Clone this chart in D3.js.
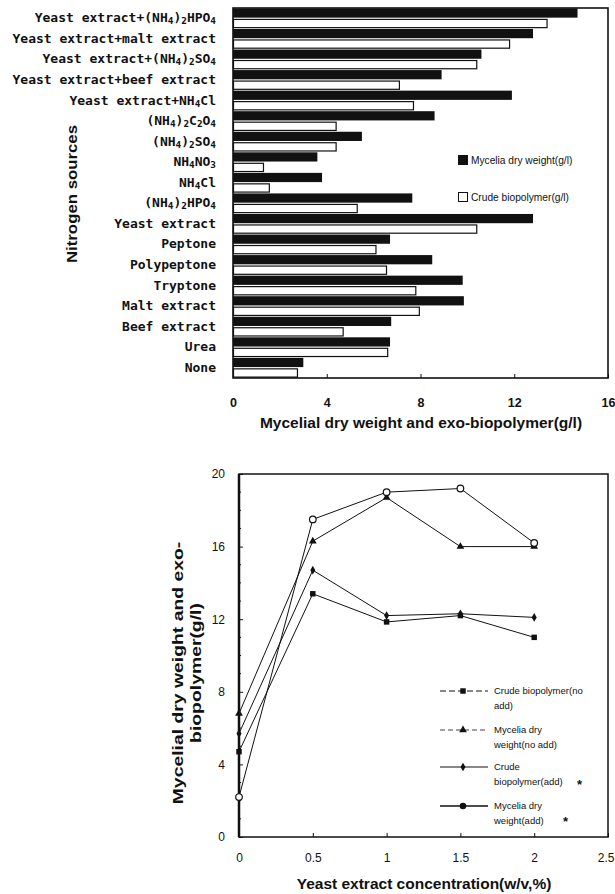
<!DOCTYPE html>
<html>
<head>
<meta charset="utf-8">
<script src="https://cdn.jsdelivr.net/npm/d3@7"></script>
<style>
  html, body { margin: 0; padding: 0; background: #fff; }
  svg { display: block; }
</style>
</head>
<body>
<svg id="chart" width="615" height="894"></svg>
<script>
// ---------- Data: top chart (nitrogen sources) ----------
// "_n" marks a subscript digit
const nitrogenSources = [
  "Yeast extract+(NH_4)_2HPO_4",
  "Yeast extract+malt extract",
  "Yeast extract+(NH_4)_2SO_4",
  "Yeast extract+beef extract",
  "Yeast extract+NH_4Cl",
  "(NH_4)_2C_2O_4",
  "(NH_4)_2SO_4",
  "NH_4NO_3",
  "NH_4Cl",
  "(NH_4)_2HPO_4",
  "Yeast extract",
  "Peptone",
  "Polypeptone",
  "Tryptone",
  "Malt extract",
  "Beef extract",
  "Urea",
  "None"
];
const myceliaDryWeight = [14.7, 12.8, 10.6, 8.9, 11.9, 8.6, 5.5, 3.6, 3.8, 7.65, 12.8, 6.7, 8.5, 9.8, 9.85, 6.75, 6.7, 3.0];
const crudeBiopolymer  = [13.4, 11.8, 10.4, 7.1, 7.7, 4.4, 4.4, 1.3, 1.55, 5.3, 10.4, 6.1, 6.55, 7.8, 7.95, 4.7, 6.6, 2.75];
const barTicks = [0, 4, 8, 12, 16];
const barSeriesNames = ["Mycelia dry weight(g/l)", "Crude biopolymer(g/l)"];

// ---------- Data: bottom chart (yeast extract concentration) ----------
const concentrations = [0, 0.5, 1, 1.5, 2];
const crudeNoAdd   = [4.7, 13.4, 11.85, 12.2, 11.0];
const myceliaNoAdd = [6.8, 16.3, 18.7, 16.0, 16.0];
const crudeAdd     = [5.7, 14.7, 12.2, 12.3, 12.1];
const myceliaAdd   = [2.2, 17.5, 19.0, 19.2, 16.2];
const lineXTicks = [0, 0.5, 1, 1.5, 2, 2.5];
const lineXTickLabels = ["0", "0.5", "1", "1.5", "2", "2.5"];
const lineYTicks = [0, 4, 8, 12, 16, 20];
const lineSeriesNames = [
  ["Crude biopolymer(no", "add)"],
  ["Mycelia dry", "weight(no add)"],
  ["Crude", "biopolymer(add)"],
  ["Mycelia dry", "weight(add)"]
];

const svg = d3.select("#chart");
const sans = "'Liberation Sans', Arial, sans-serif";
const mono = "'DejaVu Sans Mono', monospace";

// helper: write label with subscripts
function subText(sel, str) {
  const parts = str.split(/(_\d)/).filter(s => s.length);
  parts.forEach(p => {
    if (p[0] === "_") {
      sel.append("tspan").attr("baseline-shift", "-25%").attr("font-size", "0.72em").text(p.slice(1));
    } else {
      sel.append("tspan").text(p);
    }
  });
}

// ================= TOP: horizontal bar chart =================
const bL = 233, bR = 608, bT = 8, bB = 378;
const bx = d3.scaleLinear().domain([0, 16]).range([bL, bR]);
const by = d3.scaleBand().domain(nitrogenSources).range([bT, bB]).paddingInner(0).paddingOuter(0);
const sub = d3.scaleBand().domain([0, 1]).range([0, by.bandwidth()]).paddingInner(0.12).paddingOuter(0.04);

const gBar = svg.append("g");
nitrogenSources.forEach((c, i) => {
  gBar.append("rect")
    .attr("x", bx(0)).attr("y", by(c) + sub(0))
    .attr("width", bx(myceliaDryWeight[i]) - bx(0)).attr("height", sub.bandwidth())
    .attr("fill", "#111");
  gBar.append("rect")
    .attr("x", bx(0) + 0.5).attr("y", by(c) + sub(1) + 0.5)
    .attr("width", bx(crudeBiopolymer[i]) - bx(0) - 0.5).attr("height", sub.bandwidth() - 1)
    .attr("fill", "#fff").attr("stroke", "#111").attr("stroke-width", 1.2);
});

// frame
gBar.append("rect").attr("x", bL).attr("y", bT).attr("width", bR - bL).attr("height", bB - bT)
  .attr("fill", "none").attr("stroke", "#111").attr("stroke-width", 1.6);

// x axis ticks
const bAxis = d3.axisBottom(bx).tickValues(barTicks).tickSize(-4).tickPadding(20).tickFormat(d3.format("d"));
const gbx = svg.append("g").attr("transform", `translate(0,${bB})`).call(bAxis);
gbx.select(".domain").remove();
gbx.selectAll("line").attr("stroke", "#111");
gbx.selectAll("text").attr("font-family", sans).attr("font-size", 12.5).attr("font-weight", "bold").attr("fill", "#111");

// category labels
const gCat = svg.append("g");
nitrogenSources.forEach(c => {
  const t = gCat.append("text")
    .attr("x", 216).attr("y", by(c) + by.bandwidth() / 2 + 4)
    .attr("text-anchor", "end")
    .attr("font-family", mono).attr("font-weight", "bold").attr("font-size", 13)
    .attr("fill", "#111");
  subText(t, c);
});

// axis titles
svg.append("text").attr("x", 421).attr("y", 428).attr("text-anchor", "middle")
  .attr("font-family", sans).attr("font-weight", "bold").attr("font-size", 15.5).attr("fill", "#111")
  .text("Mycelial dry weight and exo-biopolymer(g/l)");
svg.append("text").attr("transform", "translate(77,194) rotate(-90) scale(1.2,1)").attr("text-anchor", "middle")
  .attr("font-family", sans).attr("font-weight", "bold").attr("font-size", 14).attr("fill", "#111")
  .text("Nitrogen sources");

// legend
const bLeg = svg.append("g").attr("font-family", sans).attr("font-size", 10.2).attr("fill", "#111");
bLeg.append("rect").attr("x", 458).attr("y", 155).attr("width", 10).attr("height", 10).attr("fill", "#111");
bLeg.append("text").attr("x", 471).attr("y", 164).text(barSeriesNames[0]);
bLeg.append("rect").attr("x", 458.5).attr("y", 192.5).attr("width", 9).attr("height", 9)
  .attr("fill", "#fff").attr("stroke", "#111").attr("stroke-width", 1);
bLeg.append("text").attr("x", 471).attr("y", 201).text(barSeriesNames[1]);

// ================= BOTTOM: line chart =================
const lL = 239, lR = 608, lT = 474, lB = 837;
const lx = d3.scaleLinear().domain([0, 2.5]).range([lL, lR]);
const ly = d3.scaleLinear().domain([0, 20]).range([lB, lT]);

// frame
svg.append("rect").attr("x", lL).attr("y", lT).attr("width", lR - lL).attr("height", lB - lT)
  .attr("fill", "none").attr("stroke", "#111").attr("stroke-width", 1.5);
svg.append("line").attr("x1", lL).attr("x2", lL).attr("y1", lT).attr("y2", lB)
  .attr("stroke", "#111").attr("stroke-width", 2.5);

// axes
const gly = svg.append("g").attr("transform", `translate(${lL},0)`)
  .call(d3.axisLeft(ly).tickValues(lineYTicks).tickSize(-4).tickPadding(14).tickFormat(d3.format("d")));
gly.select(".domain").remove();
gly.selectAll("line").attr("stroke", "#111");
gly.selectAll("text").attr("font-family", sans).attr("font-size", 12).attr("fill", "#111");
// minor ticks
const minorY = d3.range(1, 20).filter(v => v % 4 !== 0);
svg.append("g").selectAll("line").data(minorY).join("line")
  .attr("x1", lL).attr("x2", lL + 2).attr("y1", d => ly(d)).attr("y2", d => ly(d))
  .attr("stroke", "#111").attr("stroke-width", 1);

const glx = svg.append("g").attr("transform", `translate(0,${lB})`)
  .call(d3.axisBottom(lx).tickValues(lineXTicks).tickSize(-4).tickPadding(16)
    .tickFormat((d, i) => lineXTickLabels[i]));
glx.select(".domain").remove();
glx.selectAll("line").attr("stroke", "#111");
glx.selectAll("text").attr("font-family", sans).attr("font-size", 12).attr("fill", "#111");
// keep the last tick label inside the page edge
glx.selectAll(".tick").filter(d => d === 2.5).select("text").attr("text-anchor", "end").attr("x", 6);

// titles
svg.append("text").attr("x", 424).attr("y", 889).attr("text-anchor", "middle")
  .attr("font-family", sans).attr("font-weight", "bold").attr("font-size", 15.5).attr("fill", "#111")
  .text("Yeast extract concentration(w/v,%)");
const yT = svg.append("text").attr("transform", "translate(0,673) rotate(-90) scale(1.25,1)").attr("text-anchor", "middle")
  .attr("font-family", sans).attr("font-weight", "bold").attr("font-size", 15.5).attr("fill", "#111");
yT.append("tspan").attr("x", 0).attr("y", 183).text("Mycelial dry weight and exo-");
yT.append("tspan").attr("x", 0).attr("y", 201).text("biopolymer(g/l)");

// series
const series = [
  { vals: crudeNoAdd, marker: "square" },
  { vals: myceliaNoAdd, marker: "triangle" },
  { vals: crudeAdd, marker: "diamond" },
  { vals: myceliaAdd, marker: "circle" }
];
const line = d3.line().x(d => lx(d[0])).y(d => ly(d[1]));

function drawMarker(g, type, x, y, legend) {
  if (type === "square") {
    g.append("path").attr("d", d3.symbol(d3.symbolSquare, 30)()).attr("transform", `translate(${x},${y})`).attr("fill", "#111");
  } else if (type === "triangle") {
    g.append("path").attr("d", d3.symbol(d3.symbolTriangle, 26)()).attr("transform", `translate(${x},${y})`).attr("fill", "#111");
  } else if (type === "diamond") {
    g.append("path").attr("d", d3.symbol(d3.symbolDiamond, 22)()).attr("transform", `translate(${x},${y})`).attr("fill", "#111");
  } else {
    if (legend) {
      g.append("circle").attr("cx", x).attr("cy", y).attr("r", 3.3).attr("fill", "#111");
    } else {
      g.append("circle").attr("cx", x).attr("cy", y).attr("r", 3.3).attr("fill", "#fff").attr("stroke", "#111").attr("stroke-width", 1.2);
    }
  }
}

const gLines = svg.append("g");
series.forEach(s => {
  const pts = concentrations.map((c, i) => [c, s.vals[i]]);
  gLines.append("path").attr("d", line(pts)).attr("fill", "none").attr("stroke", "#111").attr("stroke-width", 1);
});
series.forEach(s => {
  concentrations.forEach((c, i) => drawMarker(gLines, s.marker, lx(c), ly(s.vals[i]), false));
});

// legend
const lLeg = svg.append("g").attr("font-family", sans).attr("font-size", 9.5).attr("fill", "#111");
const legY = [691, 730, 767, 806];
const dashes = ["6,3", "5,3", null, null];
const legW = [1, 0.8, 1, 1.6];
series.forEach((s, i) => {
  const y = legY[i];
  lLeg.append("line").attr("x1", 440).attr("x2", 488).attr("y1", y).attr("y2", y)
    .attr("stroke", "#111").attr("stroke-width", legW[i])
    .attr("stroke-dasharray", dashes[i]);
  drawMarker(lLeg, s.marker, 463, y, true);
  lLeg.append("text").attr("x", 494).attr("y", y + 3).text(lineSeriesNames[i][0]);
  lLeg.append("text").attr("x", 494).attr("y", y + 18).text(lineSeriesNames[i][1]);
});
lLeg.append("text").attr("x", 577).attr("y", 789).attr("font-size", 13).attr("font-weight", "bold").text("*");
lLeg.append("text").attr("x", 563).attr("y", 826).attr("font-size", 13).attr("font-weight", "bold").text("*");
</script>
</body>
</html>
